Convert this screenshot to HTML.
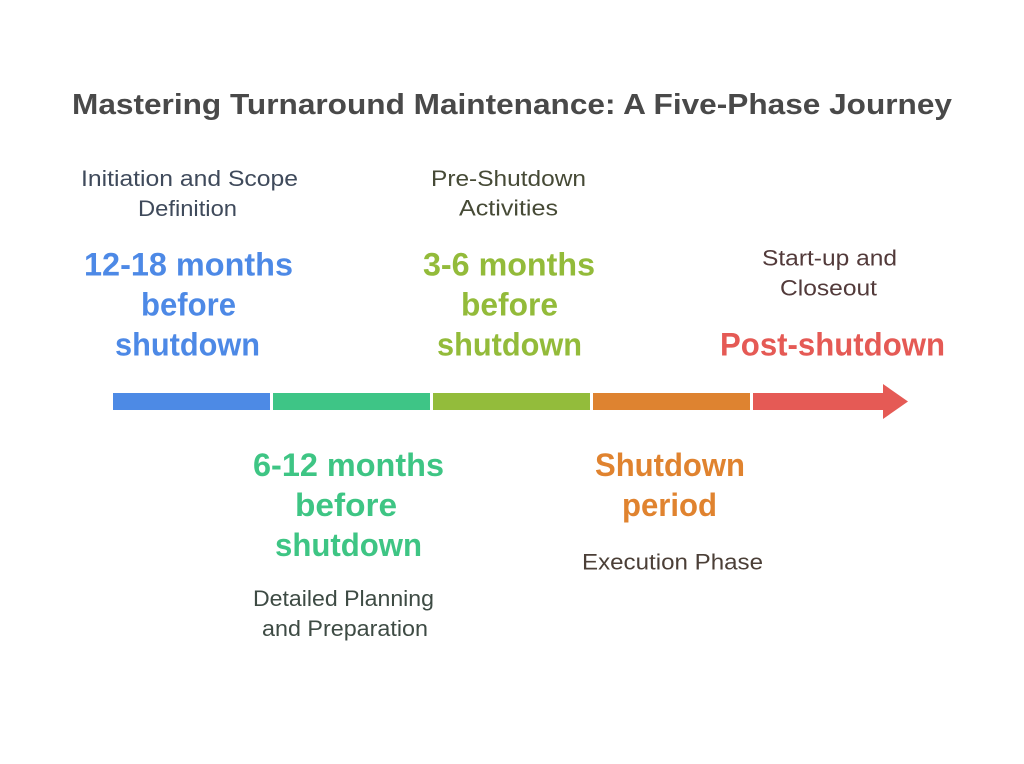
<!DOCTYPE html>
<html>
<head>
<meta charset="utf-8">
<style>
  html, body { margin: 0; padding: 0; background: #ffffff; }
  svg { display: block; }
  text { font-family: "Liberation Sans", Arial, sans-serif; }
  .t { font-size: 29px; font-weight: bold; fill: #494949; }
  .b { font-size: 32px; font-weight: bold; }
  .s { font-size: 22px; }
</style>
</head>
<body>
<svg width="1024" height="764" viewBox="0 0 1024 764" xmlns="http://www.w3.org/2000/svg">
  <rect width="1024" height="764" fill="#ffffff"/>

  <!-- Title -->
  <text class="t" x="72" y="114" textLength="880" lengthAdjust="spacingAndGlyphs">Mastering Turnaround Maintenance: A Five-Phase Journey</text>

  <!-- Phase 1 (top, blue) -->
  <text class="s" fill="#3f4a5b" x="81" y="186" textLength="217" lengthAdjust="spacingAndGlyphs">Initiation and Scope</text>
  <text class="s" fill="#3f4a5b" x="138" y="216" textLength="99" lengthAdjust="spacingAndGlyphs">Definition</text>
  <text class="b" fill="#4d89e6" x="84" y="275.5" textLength="209" lengthAdjust="spacingAndGlyphs">12-18 months</text>
  <text class="b" fill="#4d89e6" x="141" y="315.5" textLength="95" lengthAdjust="spacingAndGlyphs">before</text>
  <text class="b" fill="#4d89e6" x="115" y="355.5" textLength="145" lengthAdjust="spacingAndGlyphs">shutdown</text>

  <!-- Phase 3 (top, olive) -->
  <text class="s" fill="#464a36" x="431" y="186" textLength="155" lengthAdjust="spacingAndGlyphs">Pre-Shutdown</text>
  <text class="s" fill="#464a36" x="459" y="215.5" textLength="99" lengthAdjust="spacingAndGlyphs">Activities</text>
  <text class="b" fill="#93bb3a" x="423" y="275.5" textLength="172" lengthAdjust="spacingAndGlyphs">3-6 months</text>
  <text class="b" fill="#93bb3a" x="461" y="315.5" textLength="97" lengthAdjust="spacingAndGlyphs">before</text>
  <text class="b" fill="#93bb3a" x="437" y="355.5" textLength="145" lengthAdjust="spacingAndGlyphs">shutdown</text>

  <!-- Phase 5 (top, red) -->
  <text class="s" fill="#523a3a" x="762" y="265.5" textLength="135" lengthAdjust="spacingAndGlyphs">Start-up and</text>
  <text class="s" fill="#523a3a" x="780" y="295.5" textLength="97" lengthAdjust="spacingAndGlyphs">Closeout</text>
  <text class="b" fill="#e55a55" x="720" y="355.5" textLength="225" lengthAdjust="spacingAndGlyphs">Post-shutdown</text>

  <!-- Timeline bar -->
  <rect x="113" y="393" width="157" height="17" fill="#4d8ae5"/>
  <rect x="273" y="393" width="157" height="17" fill="#3ec586"/>
  <rect x="433" y="393" width="157" height="17" fill="#93bc3b"/>
  <rect x="593" y="393" width="157" height="17" fill="#de8330"/>
  <polygon points="753,393 883,393 883,384 908,401.5 883,419 883,410 753,410" fill="#e55a55"/>

  <!-- Phase 2 (bottom, green) -->
  <text class="b" fill="#3ec584" x="253" y="476" textLength="191" lengthAdjust="spacingAndGlyphs">6-12 months</text>
  <text class="b" fill="#3ec584" x="295" y="516" textLength="102" lengthAdjust="spacingAndGlyphs">before</text>
  <text class="b" fill="#3ec584" x="275" y="556" textLength="147" lengthAdjust="spacingAndGlyphs">shutdown</text>
  <text class="s" fill="#3e4b44" x="253" y="606" textLength="181" lengthAdjust="spacingAndGlyphs">Detailed Planning</text>
  <text class="s" fill="#3e4b44" x="262" y="636" textLength="166" lengthAdjust="spacingAndGlyphs">and Preparation</text>

  <!-- Phase 4 (bottom, orange) -->
  <text class="b" fill="#e0832f" x="595" y="476" textLength="150" lengthAdjust="spacingAndGlyphs">Shutdown</text>
  <text class="b" fill="#e0832f" x="622" y="516" textLength="95" lengthAdjust="spacingAndGlyphs">period</text>
  <text class="s" fill="#4b3f37" x="582" y="569.5" textLength="181" lengthAdjust="spacingAndGlyphs">Execution Phase</text>
</svg>
</body>
</html>
